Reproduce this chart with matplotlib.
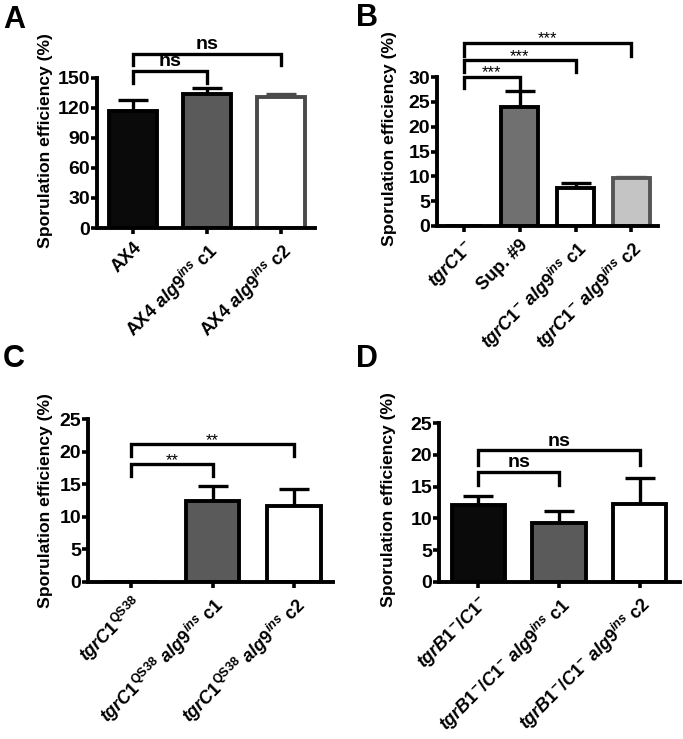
import matplotlib
matplotlib.use("Agg")
import matplotlib.pyplot as plt
import numpy as np

plt.rcParams['font.family'] = ['Liberation Sans', 'DejaVu Sans']
plt.rcParams['font.weight'] = 'bold'
plt.rcParams['mathtext.fontset'] = 'custom'
plt.rcParams['mathtext.it'] = 'Liberation Sans:italic:bold'
plt.rcParams['mathtext.rm'] = 'Liberation Sans:bold'
plt.rcParams['mathtext.bf'] = 'Liberation Sans:bold'
plt.rcParams['mathtext.sf'] = 'Liberation Sans:bold'

# ---------------- data ----------------
a_labels = ['AX4', r'AX4 $alg9^{ins}$ c1', r'AX4 $alg9^{ins}$ c2']
a_means = [117.2, 134.4, 131.1]
a_errs = [10.6, 6.0, 2.6]

b_labels = [r'$tgrC1^{-}$', 'Sup. #9', r'$tgrC1^{-}$ $alg9^{ins}$ c1', r'$tgrC1^{-}$ $alg9^{ins}$ c2']
b_means = [0.0, 23.9, 7.6, 9.6]
b_errs = [0.0, 3.3, 1.0, 0.35]

c_labels = [r'$tgrC1^{\mathrm{QS38}}$', r'$tgrC1^{\mathrm{QS38}}$ $alg9^{ins}$ c1', r'$tgrC1^{\mathrm{QS38}}$ $alg9^{ins}$ c2']
c_means = [0.0, 12.5, 11.6]
c_errs = [0.0, 2.3, 2.7]

d_labels = [r'$tgrB1^{-}/C1^{-}$', r'$tgrB1^{-}/C1^{-}$ $alg9^{ins}$ c1', r'$tgrB1^{-}/C1^{-}$ $alg9^{ins}$ c2']
d_means = [12.1, 9.35, 12.3]
d_errs = [1.5, 1.85, 4.1]

# styles
a_fill = ['#0a0a0a', '#5a5a5a', '#ffffff']
a_edge = ['#000000', '#000000', '#4a4a4a']
b_fill = ['#ffffff', '#707070', '#ffffff', '#c4c4c4']
b_edge = ['#000000', '#000000', '#000000', '#555555']
c_fill = ['#ffffff', '#5a5a5a', '#ffffff']
c_edge = ['#000000', '#000000', '#000000']
d_fill = ['#0a0a0a', '#5a5a5a', '#ffffff']
d_edge = ['#000000', '#000000', '#000000']

# significance brackets: (i, j, bar height, leg bottom, text)
a_sig = [(0, 1, 157, 145, 'ns'), (0, 2, 174.2, 162.6, 'ns')]
b_sig = [(0, 1, 30.1, 27.8, '***'), (0, 2, 33.4, 31.1, '***'), (0, 3, 36.9, 34.3, '***')]
c_sig = [(0, 1, 18.1, 16.2, '**'), (0, 2, 21.2, 19.4, '**')]
d_sig = [(0, 1, 17.3, 15.2, 'ns'), (0, 2, 20.7, 18.4, 'ns')]

W, H = 683, 739
fig = plt.figure(figsize=(W / 100, H / 100), dpi=100)


def px_axes(left, right, bottom, top):
    return fig.add_axes([left / W, (H - bottom) / H, (right - left) / W, (bottom - top) / H])


def panel(ax, labels, means, errs, fills, edges, sig, ymax, ystep, xlim, ylab_xy):
    x = np.arange(len(means))
    ax.bar(x, means, width=0.66, color=fills, edgecolor=edges, linewidth=2.8, zorder=2)
    for xi, m, e, ec in zip(x, means, errs, edges):
        if e > 0:
            ax.errorbar([xi], [m], yerr=[[0], [e]], fmt='none', ecolor=ec, elinewidth=2.4,
                        capsize=10.5, capthick=2.4, zorder=1)
    ax.set_ylim(0, ymax)
    ax.set_xlim(*xlim)
    ax.set_yticks(np.arange(0, ymax + 0.01, ystep))
    ax.set_xticks(x)
    ax.set_xticklabels(labels, rotation=45, ha='right', rotation_mode='anchor', fontsize=13)
    for t in ax.get_yticklabels():
        t.set_fontsize(14)
        t.set_fontweight('bold')
    for s in ['top', 'right']:
        ax.spines[s].set_visible(False)
    for s in ['left', 'bottom']:
        ax.spines[s].set_linewidth(2.8)
    ax.tick_params(axis='both', width=2.6, length=4, pad=1)
    ax.tick_params(axis='x', pad=4)
    ax.set_ylabel('Sporulation efficiency (%)', fontsize=12.6, fontweight='bold')
    ax.yaxis.set_label_coords(*ylab_xy)
    for (i, j, yb, yl, txt) in sig:
        ax.plot([i, i, j, j], [yl, yb, yb, yl], color='black', lw=2.4, clip_on=False,
                solid_joinstyle='miter')
        if txt == 'ns':
            ax.text((i + j) / 2, yb + ymax * 0.005, txt, ha='center', va='bottom', fontsize=14,
                    fontweight='bold')
        else:
            ax.text((i + j) / 2, yb - ymax * 0.025, txt, ha='center', va='bottom', fontsize=12,
                    fontweight='normal')


axA = px_axes(97, 315, 228, 78)
panel(axA, a_labels, a_means, a_errs, a_fill, a_edge, a_sig, 150, 30, (-0.486, 2.46), (-0.20, 0.585))
axB = px_axes(437, 658, 226, 77)
panel(axB, b_labels, b_means, b_errs, b_fill, b_edge, b_sig, 30, 5, (-0.485, 3.48), (-0.18, 0.59))
axC = px_axes(88, 333, 582, 419)
panel(axC, c_labels, c_means, c_errs, c_fill, c_edge, c_sig, 25, 5, (-0.53, 2.48), (-0.143, 0.5))
axD = px_axes(439, 680, 582, 423)
panel(axD, d_labels, d_means, d_errs, d_fill, d_edge, d_sig, 25, 5, (-0.49, 2.5), (-0.178, 0.52))

for letter, (lx, ly) in zip('ABCD', [(3, 5), (356, 3), (3, 344), (356, 344)]):
    fig.text(lx / W, 1 - ly / H, letter, fontsize=22, fontweight='bold', ha='left', va='top')

fig.savefig('out.png', dpi=100)
